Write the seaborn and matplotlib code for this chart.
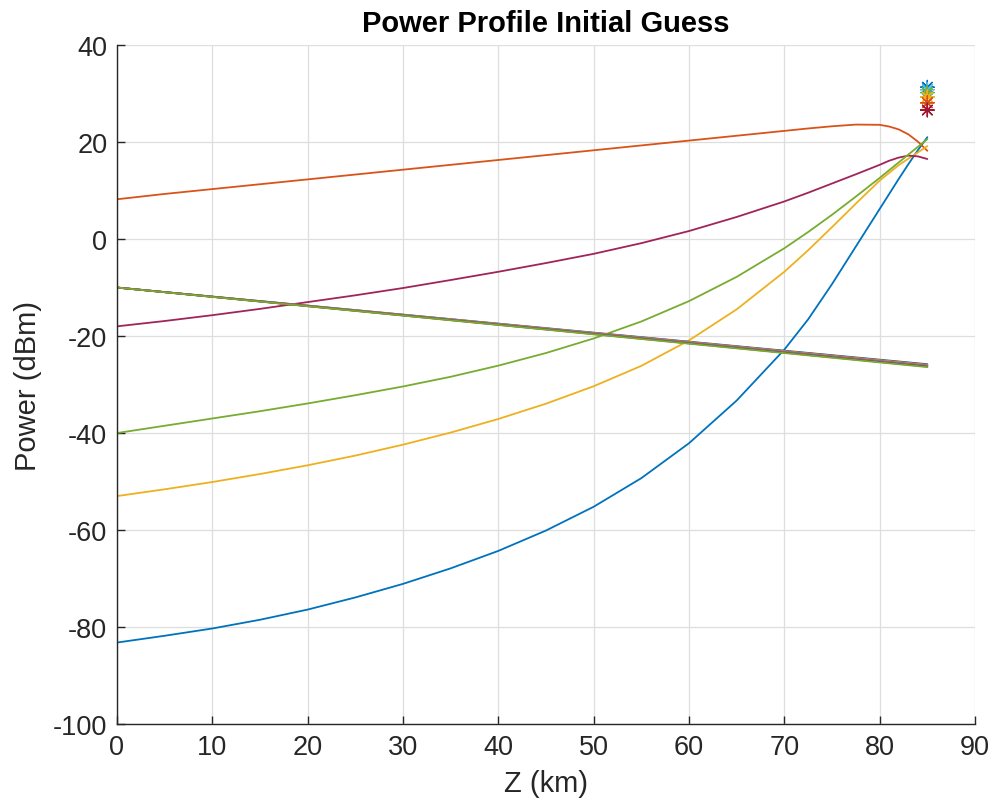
import numpy as np
import pandas as pd
import matplotlib
matplotlib.use("Agg")
import matplotlib.pyplot as plt
import seaborn as sns

# ---------------- data ----------------
z_km = [0, 5, 10, 15, 20, 25, 30, 35, 40, 45, 50, 55, 60, 65, 70,
        72.5, 75, 77.5, 80, 81, 82, 83, 84, 85]

pump_blue = [-83.2, -81.8, -80.3, -78.5, -76.4, -73.9, -71.1, -67.9, -64.3, -60.1,
             -55.2, -49.3, -42.1, -33.3, -22.8, -16.55, -9.3, -1.55, 6.2, 9.3,
             12.4, 15.4, 18.3, 21.0]
pump_orange = [8.2, 9.3, 10.3, 11.3, 12.3, 13.3, 14.3, 15.3, 16.3, 17.3,
               18.3, 19.3, 20.3, 21.3, 22.3, 22.8, 23.25, 23.6, 23.55, 23.2,
               22.6, 21.6, 20.1, 18.2]
pump_yellow = [-53, -51.6, -50.1, -48.45, -46.65, -44.65, -42.4, -39.9, -37.1, -33.95,
               -30.35, -26.15, -20.9, -14.5, -6.75, -2.3, 2.45, 7.3, 12.05, 13.65,
               15.25, 16.55, 17.85, 19.15]
pump_purple = [-18, -16.9, -15.7, -14.4, -13.0, -11.6, -10.1, -8.45, -6.75, -4.95,
               -3.05, -0.85, 1.65, 4.55, 7.75, 9.55, 11.45, 13.35, 15.3, 16.15,
               16.8, 17.2, 17.05, 16.5]
pump_green = [-40, -38.5, -37, -35.5, -33.9, -32.2, -30.4, -28.4, -26.1, -23.5,
              -20.5, -17.0, -12.8, -7.8, -1.9, 1.45, 5.0, 8.75, 12.6, 14.2,
              15.8, 17.4, 19.0, 20.6]

pump_names = ["P1", "P2", "P3", "P4", "P5"]
pump_values = [pump_blue, pump_orange, pump_yellow, pump_purple, pump_green]

# signal channels: straight lines (start at z=0, end at z=85)
signal_z = [0, 85]
signal_start = [-10.0, -10.0, -10.0, -10.0, -10.0, -10.0, -10.0]
signal_end = [-25.8, -25.9, -26.0, -26.1, -26.2, -26.3, -26.4]

# pump launch powers (markers at z = 85 km)
marker_z = 85
marker_vals = [31.3, 30.8, 30.2, 29.3, 28.1, 26.6]

# ---------------- styling ----------------
pump_colors = ["#0072BD", "#D95319", "#EDB120", "#A0245A", "#77AC30"]
sig_colors = ["#0072BD", "#D95319", "#EDB120", "#7E2F8E", "#4DBEEE", "#A2142F", "#77AC30"]
marker_colors = ["#0072BD", "#4DBEEE", "#77AC30", "#EDB120", "#D95319", "#A2142F"]

sns.set_theme(style="ticks")
plt.rcParams["font.family"] = ["Liberation Sans", "DejaVu Sans"]
plt.rcParams["axes.unicode_minus"] = False

fig = plt.figure(figsize=(10, 8.12), dpi=100)
ax = fig.add_axes([0.117, 0.1071, 0.858, 0.8362])

pump_df = pd.DataFrame({
    "z": np.tile(z_km, len(pump_names)),
    "P": np.concatenate(pump_values),
    "pump": np.repeat(pump_names, len(z_km)),
})
sns.lineplot(data=pump_df, x="z", y="P", hue="pump", palette=pump_colors,
             estimator=None, sort=False, linewidth=1.3, legend=False, ax=ax)

sig_names = [f"S{i+1}" for i in range(len(signal_start))]
sig_df = pd.DataFrame({
    "z": np.tile(signal_z, len(sig_names)),
    "P": np.ravel(np.column_stack([signal_start, signal_end])),
    "sig": np.repeat(sig_names, len(signal_z)),
})
sns.lineplot(data=sig_df, x="z", y="P", hue="sig", palette=sig_colors,
             estimator=None, sort=False, linewidth=1.3, legend=False, ax=ax)

mk_df = pd.DataFrame({"z": [marker_z] * len(marker_vals), "P": marker_vals,
                      "m": [f"M{i}" for i in range(len(marker_vals))]})
sns.scatterplot(data=mk_df, x="z", y="P", hue="m", palette=marker_colors,
                marker=(8, 2, 0), s=95, linewidth=1.0, legend=False, ax=ax)

ax.set_xlim(0, 90)
ax.set_ylim(-100, 40)
ax.set_xticks(range(0, 91, 10))
ax.set_yticks(range(-100, 41, 20))
ax.grid(True, color="#dedede", linewidth=0.9)
ax.set_axisbelow(True)
for s in ["top", "right"]:
    ax.spines[s].set_visible(False)
for s in ["left", "bottom"]:
    ax.spines[s].set_color("#262626")
    ax.spines[s].set_linewidth(1.0)
ax.tick_params(direction="in", length=6, width=1.0, colors="#262626",
               labelsize=19.5, labelcolor="#262626", pad=7)

ax.set_xlabel("Z (km)", fontsize=21, color="#262626", labelpad=7)
ax.set_ylabel("Power (dBm)", fontsize=21, color="#262626", labelpad=8)
ax.set_title("Power Profile Initial Guess", fontsize=21, fontweight="bold",
             color="black", pad=10)

fig.savefig("out.png", dpi=100)
